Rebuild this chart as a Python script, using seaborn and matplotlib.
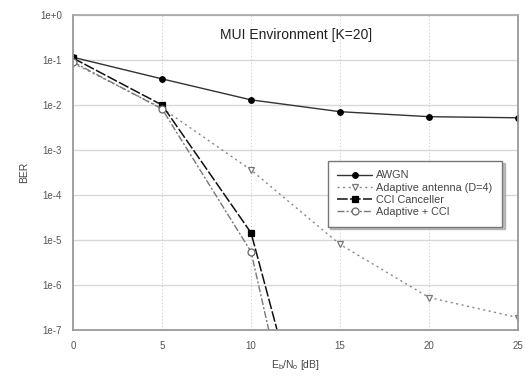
import matplotlib
matplotlib.use("Agg")
import matplotlib.pyplot as plt
import numpy as np
import pandas as pd
import seaborn as sns

# values (Eb/No in dB, BER)
snr_db = [0, 5, 10, 15, 20, 25]
ber_awgn = [0.115, 0.038, 0.013, 0.0071, 0.0055, 0.0052]
ber_adaptive = [0.085, 0.0085, 3.6e-4, 8e-6, 5.3e-7, 1.9e-7]
snr_cci = [0, 5, 10, 15]
ber_cci = [0.11, 0.010, 1.45e-5, 6e-13]
ber_adaptive_cci = [0.09, 0.0082, 5.5e-6, 1e-14]

series_names = ["AWGN", "Adaptive antenna (D=4)", "CCI Canceller", "Adaptive + CCI"]
yticks = [1e0, 1e-1, 1e-2, 1e-3, 1e-4, 1e-5, 1e-6, 1e-7]
ytick_labels = ["1e+0", "1e-1", "1e-2", "1e-3", "1e-4", "1e-5", "1e-6", "1e-7"]
xticks = [0, 5, 10, 15, 20, 25]

sns.set_theme(style="white")
plt.rcParams["font.family"] = ["Liberation Sans", "DejaVu Sans"]

data_df = pd.concat([
    pd.DataFrame({"snr": snr_db, "ber": ber_awgn, "series": series_names[0]}),
    pd.DataFrame({"snr": snr_db, "ber": ber_adaptive, "series": series_names[1]}),
    pd.DataFrame({"snr": snr_cci, "ber": ber_cci, "series": series_names[2]}),
    pd.DataFrame({"snr": snr_cci, "ber": ber_adaptive_cci, "series": series_names[3]}),
])

fig = plt.figure(figsize=(5.25, 3.83), dpi=100)
ax = fig.add_axes([0.139, 0.138, 0.848, 0.823])

styles = {
    "AWGN": dict(color="#333333", linestyle="-", marker="o", ms=4,
                 mfc="black", mec="black", lw=1.0),
    "Adaptive antenna (D=4)": dict(color="#888888", linestyle=(0, (1.5, 2.5)),
                                   marker="v", ms=5, mfc="white", mec="#777777", lw=1.0),
    "CCI Canceller": dict(color="#111111", linestyle=(0, (7, 1.5)), marker="s",
                          ms=5, mfc="black", mec="black", lw=1.1),
    "Adaptive + CCI": dict(color="#777777", linestyle=(0, (5, 1.5, 1.5, 1.5)),
                           marker="o", ms=5, mfc="white", mec="#666666", lw=1.0),
}

# grid: light solid at each decade, dotted at the inner x ticks
for yv in yticks:
    ax.axhline(yv, color="#d8d8d8", lw=1.0, zorder=0)
for xv in xticks[1:-1]:
    ax.axvline(xv, color="#cccccc", lw=0.8, linestyle=(0, (1, 2)), zorder=0)

for name in series_names:
    sub = data_df[data_df["series"] == name]
    st = styles[name]
    sns.lineplot(data=sub, x="snr", y="ber", ax=ax, label=name,
                 color=st["color"], linestyle=st["linestyle"], lw=st["lw"],
                 marker=st["marker"], markersize=st["ms"],
                 markerfacecolor=st["mfc"], markeredgecolor=st["mec"],
                 markeredgewidth=0.9, clip_on=True)

ax.set_yscale("log")
ax.set_ylim(1e-7, 1e0)
ax.set_xlim(0, 25)
ax.set_yticks(yticks)
ax.set_yticklabels(ytick_labels)
ax.minorticks_off()
ax.set_xticks(xticks)
ax.tick_params(axis="both", labelsize=7, colors="#444444", length=4,
               width=0.8, direction="inout", pad=6)
ax.tick_params(axis="y", labelcolor="#555555")
ax.tick_params(axis="x", labelcolor="#555555")

for side in ["left", "bottom", "top", "right"]:
    ax.spines[side].set_color("#999999")
    ax.spines[side].set_linewidth(1.3)
ax.spines["top"].set_color("#aaaaaa")

ax.set_xlabel(r"E$_\mathregular{b}$/N$_\mathregular{o}$ [dB]", fontsize=7.5,
              color="#444444", labelpad=5)
ax.set_ylabel("BER", fontsize=7.5, color="#444444", labelpad=8)
ax.text(0.5, 0.96, "MUI Environment [K=20]", transform=ax.transAxes,
        ha="center", va="top", fontsize=10, color="#222222")

leg = ax.legend(loc="upper left", bbox_to_anchor=(0.56, 0.555), fontsize=7.8,
                frameon=True, fancybox=False, shadow={"color": "#aaaaaa", "alpha": 0.8},
                handlelength=3.2, borderpad=0.9, labelspacing=0.2,
                handletextpad=0.4)
leg.get_frame().set_edgecolor("#777777")
leg.get_frame().set_linewidth(1.0)
for t in leg.get_texts():
    t.set_color("#444444")

fig.savefig("out.png", dpi=100)
plt.close(fig)
